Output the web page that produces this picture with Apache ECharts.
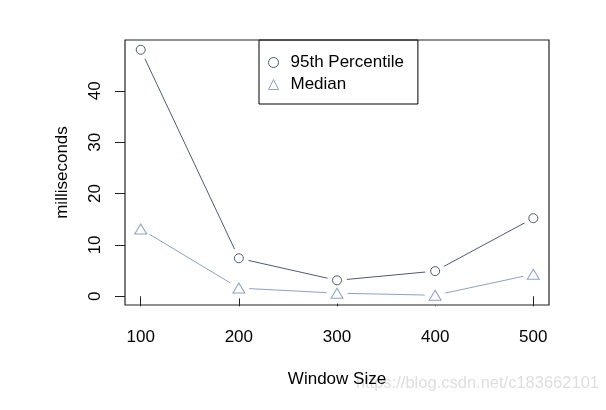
<!DOCTYPE html>
<html>
<head>
<meta charset="utf-8">
<script src="https://cdn.jsdelivr.net/npm/echarts@6/dist/echarts.min.js"></script>
<style>html,body{margin:0;padding:0;background:#fff;}#c{width:606px;height:410px;}</style>
</head>
<body>
<div id="c"></div>
<script>
var windowSizes = [100, 200, 300, 400, 500];
var p95 = [48.0, 7.4, 3.1, 4.9, 15.2];
var median = [13.1, 1.6, 0.6, 0.2, 4.3];
var xTicks = [100, 200, 300, 400, 500];
var yTicks = [0, 10, 20, 30, 40];
var seriesNames = ['95th Percentile', 'Median'];

var FONT = '"Liberation Sans", Arial, Helvetica, sans-serif';
var C95 = '#4f5b74';
var CMED = '#8ea2c0';

function pairs(vals) { return windowSizes.map(function (x, i) { return [x, vals[i]]; }); }

var chart = echarts.init(document.getElementById('c'), null, { renderer: 'canvas' });
var G = { left: 125, right: 57, top: 40, bottom: 105 };
chart.setOption({
  animation: false,
  backgroundColor: '#fff',
  textStyle: { fontFamily: FONT },
  grid: { left: G.left, right: G.right, top: G.top, bottom: G.bottom, show: false },
  xAxis: {
    type: 'value', min: 84, max: 516,
    axisLine: { show: false },
    axisTick: { show: true, customValues: xTicks, length: 10, lineStyle: { color: '#222', width: 1 } },
    axisLabel: { customValues: xTicks, fontSize: 17, color: '#000', margin: 24, fontFamily: FONT },
    splitLine: { show: false },
    name: 'Window Size', nameLocation: 'middle', nameGap: 66,
    nameTextStyle: { fontSize: 17, color: '#000', fontFamily: FONT }
  },
  yAxis: {
    type: 'value', min: -1.7, max: 49.9,
    axisLine: { show: false },
    axisTick: { show: true, customValues: yTicks, length: 10, lineStyle: { color: '#222', width: 1 } },
    axisLabel: { customValues: yTicks, fontSize: 17, color: '#000', margin: 21, rotate: 90, fontFamily: FONT },
    splitLine: { show: false },
    name: 'milliseconds', nameLocation: 'middle', nameGap: 54,
    nameTextStyle: { fontSize: 17, color: '#000', fontFamily: FONT }
  },
  legend: {
    data: [{ name: seriesNames[0], icon: 'circle' }, { name: seriesNames[1], icon: 'triangle' }],
    orient: 'vertical', left: 259, top: 40,
    padding: [14, 14, 11, 9], itemGap: 5, itemWidth: 10, itemHeight: 10,
    backgroundColor: '#fff', borderColor: '#000', borderWidth: 1, borderRadius: 0,
    itemStyle: { borderWidth: 1 },
    formatter: function (n) { return '{t|' + n + '}'; },
    textStyle: { fontSize: 17, color: '#000', fontFamily: FONT,
      rich: { t: { fontSize: 17, color: '#000', fontFamily: FONT, padding: [0, 0, 0, 7] } } },
    selectedMode: false
  },
  series: [
    { name: 'l95', type: 'line', data: pairs(p95), showSymbol: false, symbol: 'none', lineStyle: { color: C95, width: 1 }, z: 1 },
    { name: 'lmed', type: 'line', data: pairs(median), showSymbol: false, symbol: 'none', lineStyle: { color: CMED, width: 1 }, z: 1 },
    { name: 'g95', type: 'scatter', data: pairs(p95), symbol: 'circle', symbolSize: 20, itemStyle: { color: '#fff', opacity: 1 }, z: 2, silent: true },
    { name: 'gmed', type: 'scatter', data: pairs(median), symbol: 'circle', symbolSize: 21, itemStyle: { color: '#fff', opacity: 1 }, z: 2, silent: true },
    { name: seriesNames[0], type: 'scatter', data: pairs(p95), symbol: 'circle', symbolSize: 9, itemStyle: { color: '#fff', borderColor: C95, borderWidth: 1, opacity: 1 }, z: 3 },
    { name: seriesNames[1], type: 'scatter', data: pairs(median), symbol: 'triangle', symbolSize: [12, 10], itemStyle: { color: '#fff', borderColor: CMED, borderWidth: 1, opacity: 1 }, z: 3 }
  ],
  graphic: [
    { type: 'rect', z: 100, silent: true, shape: { x: G.left, y: G.top, width: 606 - G.left - G.right, height: 410 - G.top - G.bottom },
      style: { fill: 'none', stroke: '#222', lineWidth: 1.2 } },
    { type: 'text', right: 7, top: 375, z: 0, silent: true,
      style: { text: 'https://blog.csdn.net/c183662101', fontSize: 16.5, fill: '#dedede', fontFamily: FONT } }
  ]
});
</script>
</body>
</html>
